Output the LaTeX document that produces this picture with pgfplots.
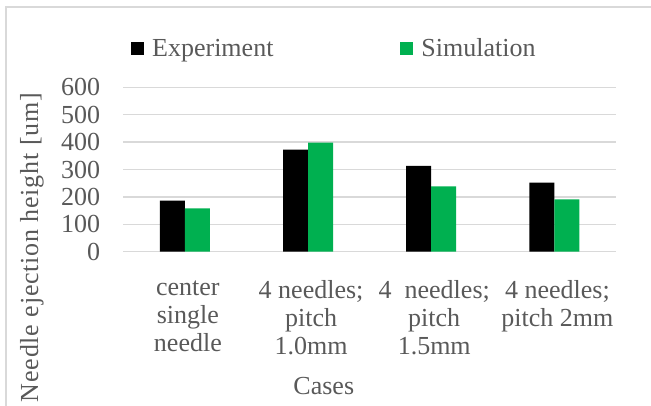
\documentclass[border=0pt]{standalone}
\usepackage{pgfplots}
\pgfplotsset{compat=1.18}
\usepackage{fontspec}
\setmainfont{Liberation Serif}
\definecolor{txtgray}{HTML}{595959}
\definecolor{gridgray}{HTML}{D9D9D9}
\definecolor{simgreen}{HTML}{00B050}
\newcommand{\chartfont}{\fontsize{26}{28}\selectfont}
\begin{document}
\begin{tikzpicture}
\useasboundingbox (0pt,0pt) rectangle (651pt,405pt);
% chart frame
\draw[gridgray, line width=1.2pt] (6pt,-20pt) rectangle (680pt,398pt);
\begin{axis}[
  at={(123.3pt,153.3pt)}, anchor=south west,
  scale only axis, width=492.7pt, height=164.4pt,
  ymin=0, ymax=600, ytick={0,100,...,600},
  xmin=-0.5, xmax=3.5, xtick={0,1,2,3},
  xticklabels={{center\\single\\needle},{4 needles;\\pitch\\1.0mm},{4\ \ needles;\\pitch\\1.5mm},{4 needles;\\pitch 2mm}},
  ybar=0pt, bar width=25pt,
  axis line style={draw=none},
  major tick length=0pt,
  ymajorgrids, grid style={gridgray, line width=1.3pt},
  /pgf/number format/assume math mode=true,
  tick label style={text=txtgray, font=\chartfont},
  yticklabel style={anchor=east, inner sep=0pt, xshift=-23pt},
  xticklabel style={align=center, anchor=north, inner sep=0pt, yshift=-29pt, xshift=3pt},
  label style={text=txtgray, font=\chartfont},
  xlabel={Cases},
  xlabel style={at={(axis description cs:0.407,-0.866)}, anchor=base},
  ylabel={\addfontfeatures{LetterSpace=3}Needle ejection height [um]},
  ylabel style={at={(axis description cs:-0.1853,0.025)}, anchor=center},
  legend columns=2,
  legend style={at={(axis description cs:0.0156,1.236)}, anchor=west,
    draw=none, fill=none, inner sep=0pt, text=txtgray,
    font=\chartfont,
    /tikz/every even column/.append style={column sep=125pt}},
  legend image code/.code={\fill[#1] (0pt,-6.5pt) rectangle (13pt,6.5pt); \path (19pt,0pt);},
]
\addplot[fill=black, draw=none] coordinates {(0,186) (1,373) (2,313) (3,252)};
\addplot[fill=simgreen, draw=none] coordinates {(0,158) (1,398) (2,238) (3,191)};
\legend{Experiment, Simulation}
\end{axis}
\end{tikzpicture}
\end{document}
